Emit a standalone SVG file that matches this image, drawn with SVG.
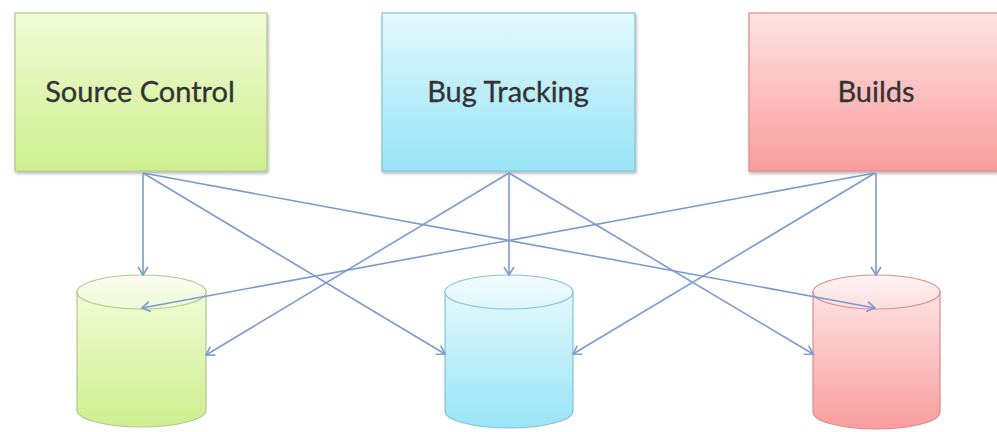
<svg xmlns="http://www.w3.org/2000/svg" width="997" height="432" viewBox="0 0 997 432">
  <defs>
    <linearGradient id="gGreen" x1="0" y1="0" x2="0" y2="1">
      <stop offset="0" stop-color="#f1fbd6"/>
      <stop offset="1" stop-color="#cdef8e"/>
    </linearGradient>
    <linearGradient id="gBlue" x1="0" y1="0" x2="0" y2="1">
      <stop offset="0" stop-color="#e2f8fd"/>
      <stop offset="1" stop-color="#98e4f6"/>
    </linearGradient>
    <linearGradient id="gRed" x1="0" y1="0" x2="0" y2="1">
      <stop offset="0" stop-color="#fde3e3"/>
      <stop offset="1" stop-color="#f99c9c"/>
    </linearGradient>
    <linearGradient id="gGreenTop" x1="0" y1="0" x2="0" y2="1">
      <stop offset="0" stop-color="#fbfef2"/>
      <stop offset="1" stop-color="#eef9d6"/>
    </linearGradient>
    <linearGradient id="gBlueTop" x1="0" y1="0" x2="0" y2="1">
      <stop offset="0" stop-color="#f4fcfe"/>
      <stop offset="1" stop-color="#dcf5fb"/>
    </linearGradient>
    <linearGradient id="gRedTop" x1="0" y1="0" x2="0" y2="1">
      <stop offset="0" stop-color="#fef3f3"/>
      <stop offset="1" stop-color="#fcdede"/>
    </linearGradient>
    <filter id="shadow" x="-5%" y="-5%" width="115%" height="120%">
      <feDropShadow dx="1" dy="2" stdDeviation="1.5" flood-color="#000" flood-opacity="0.3"/>
    </filter>
    <marker id="arrow" viewBox="0 0 10 12" refX="9" refY="6" markerWidth="10" markerHeight="12" markerUnits="userSpaceOnUse" orient="auto">
      <path d="M1,1 L9,6 L1,11" fill="none" stroke="#7b9bd0" stroke-width="1.6"/>
    </marker>
  </defs>
  <style>
    .label { font-family: Lato, "Liberation Sans", sans-serif; font-size: 29px; fill: #333333; stroke: #333333; stroke-width: 0.3; text-anchor: middle; }
    .conn { stroke: #7b9bd0; stroke-width: 1.6; fill: none; marker-end: url(#arrow); }
    .green { fill: url(#gGreen); stroke: #b3c78a; stroke-width: 1.2; }
    .blue { fill: url(#gBlue); stroke: #82c4d6; stroke-width: 1.2; }
    .red { fill: url(#gRed); stroke: #d98c8d; stroke-width: 1.2; }
  </style>

  <rect width="997" height="432" fill="#ffffff"/>

  <!-- top boxes -->
  <g id="source-control">
    <rect x="15" y="13" width="252" height="158" class="green" filter="url(#shadow)"/>
    <text x="140" y="102" class="label">Source Control</text>
  </g>
  <g id="bug-tracking">
    <rect x="382" y="13" width="253" height="158" class="blue" filter="url(#shadow)"/>
    <text x="508" y="102" class="label">Bug Tracking</text>
  </g>
  <g id="builds">
    <rect x="749" y="13" width="250" height="158" class="red" filter="url(#shadow)"/>
    <text x="876" y="102" class="label">Builds</text>
  </g>

  <!-- storage cylinders -->
  <g id="store-source">
    <path d="M77,292 L77,410 A64.5,17 0 0 0 206,410 L206,292 Z" class="green"/>
    <ellipse cx="141.5" cy="292" rx="64.5" ry="17" fill="url(#gGreenTop)" stroke="#b3c78a" stroke-width="1.2"/>
  </g>
  <g id="store-bugs">
    <path d="M445,292 L445,411 A64,17 0 0 0 573,411 L573,292 Z" class="blue"/>
    <ellipse cx="509" cy="292" rx="64" ry="17" fill="url(#gBlueTop)" stroke="#82c4d6" stroke-width="1.2"/>
  </g>
  <g id="store-builds">
    <path d="M813,292 L813,412 A63.5,17 0 0 0 940,412 L940,292 Z" class="red"/>
    <ellipse cx="876.5" cy="292" rx="63.5" ry="17" fill="url(#gRedTop)" stroke="#d98c8d" stroke-width="1.2"/>
  </g>

  <!-- connectors -->
  <g id="connectors">
    <line x1="143" y1="173" x2="143" y2="275" class="conn"/>
    <line x1="143" y1="173" x2="445" y2="354" class="conn"/>
    <line x1="143" y1="173" x2="875" y2="308" class="conn"/>
    <line x1="509" y1="173" x2="206" y2="355" class="conn"/>
    <line x1="509" y1="173" x2="509" y2="275" class="conn"/>
    <line x1="509" y1="173" x2="813" y2="354" class="conn"/>
    <line x1="875" y1="173" x2="142" y2="308" class="conn"/>
    <line x1="875" y1="173" x2="573" y2="354" class="conn"/>
    <line x1="876" y1="173" x2="876" y2="275" class="conn"/>
  </g>
</svg>
